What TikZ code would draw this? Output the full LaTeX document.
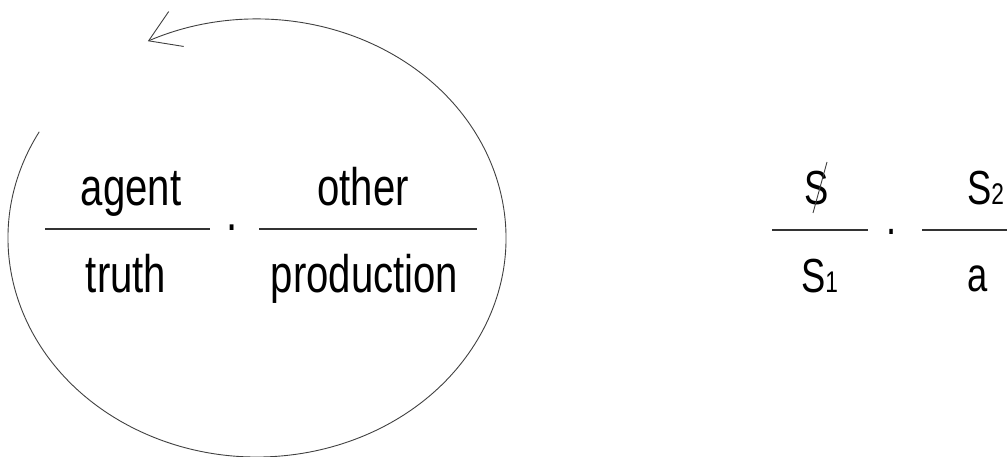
\documentclass[tikz,border=0pt]{standalone}
\usepackage{fontspec}
\setmainfont{Liberation Sans}[FakeStretch=0.76]
\usetikzlibrary{arrows.meta}
\begin{document}
\begin{tikzpicture}[x=1bp,y=1bp,
  big/.style={font=\fontsize{53}{60}\selectfont, inner sep=0, anchor=base},
  small/.style={font=\fontsize{48}{56}\selectfont, inner sep=0, anchor=base},
  bar/.style={line width=1.2bp, draw=black!80},
  loop/.style={line width=0.9bp, draw=black!75}]
\useasboundingbox (0,0) rectangle (1007,457);
\clip (0,0) rectangle (1007,457);
% left fraction pair
\draw[bar] (45,228) -- (210,228);
\draw[bar] (259,228) -- (477,228);
\node[big] (agent) at (131,251) {agent};
\node[big] (other) at (363,251) {other};
\node[big] (truth) at (126,164) {truth};
\node[big] (prod) at (364.5,164) {production};
\node[big] (dotL) at (232,226.5) {.};
% loop arrow
\coordinate (c) at (257,219);
\draw[loop, -{Straight Barb[length=30bp,width=38bp]}]
  ([shift={(151:249 and 219)}]c) arc[start angle=151, end angle=476, x radius=249, y radius=219];
% right fraction pair
\draw[bar] (772,227) -- (868,227);
\draw[bar] (922,227) -- (1012,227);
\node[small] (dotR) at (892,222.5) {.};
\node[small] (S) at (817,252) {S};
\draw[loop] (827,295) -- (813,244);
\node[small, anchor=base west] (S1) at (801,164) {S{\fontsize{30}{32}\selectfont 1}};
\node[small, anchor=base west] (S2) at (967,252) {S{\fontsize{30}{32}\selectfont 2}};
\node[small] (a) at (978,165) {a};
\end{tikzpicture}
\end{document}
